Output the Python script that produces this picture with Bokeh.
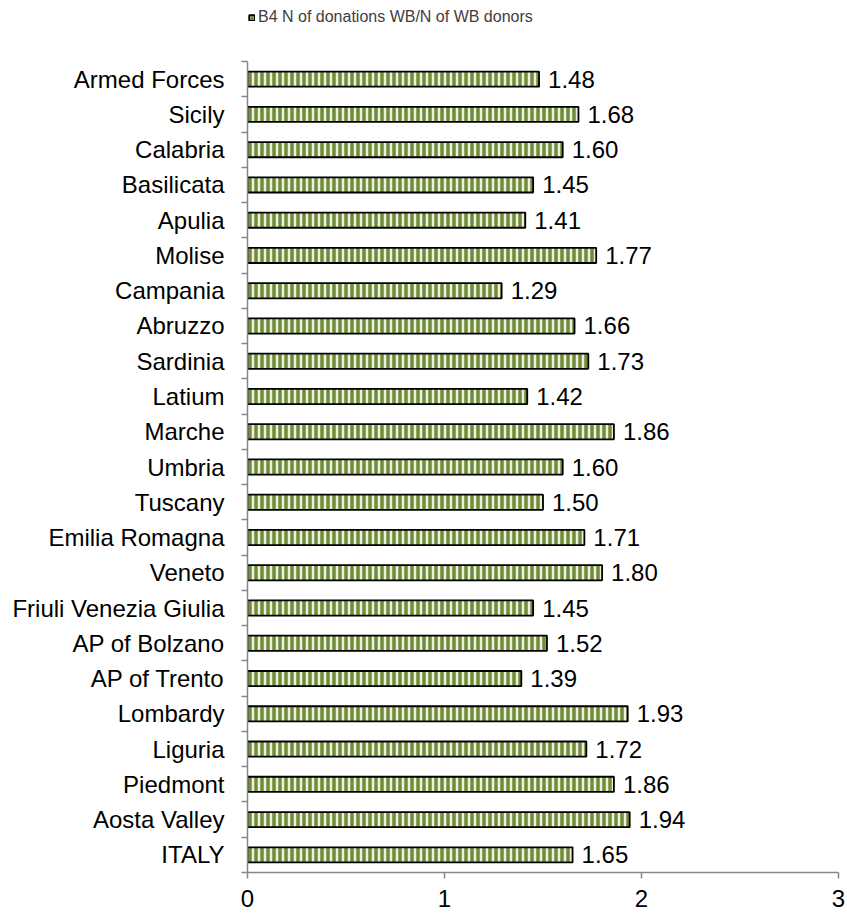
from bokeh.plotting import figure
from bokeh.models import FixedTicker, Range1d, ColumnDataSource, Legend, LegendItem
from bokeh.embed import file_html
from bokeh.resources import INLINE
from bokeh.core.properties import value

# Categories listed from bottom to top
regions = ["ITALY", "Aosta Valley", "Piedmont", "Liguria", "Lombardy",
           "AP of Trento", "AP of Bolzano", "Friuli Venezia Giulia", "Veneto",
           "Emilia Romagna", "Tuscany", "Umbria", "Marche", "Latium", "Sardinia",
           "Abruzzo", "Campania", "Molise", "Apulia", "Basilicata", "Calabria",
           "Sicily", "Armed Forces"]
ratios = [1.65, 1.94, 1.86, 1.72, 1.93, 1.39, 1.52, 1.45, 1.80, 1.71, 1.50,
          1.60, 1.86, 1.42, 1.73, 1.66, 1.29, 1.77, 1.41, 1.45, 1.60, 1.68, 1.48]
x_ticks = [0, 1, 2, 3]
series_name = "B4 N of donations WB/N of WB donors"

FONT = "Liberation Sans"
n = len(regions)
pos = list(range(n))
src = ColumnDataSource(dict(y=pos, v=ratios, lab=[f"{r:.2f}" for r in ratios]))

# frame spans the full height above the x axis; the y axis itself is bounded
p = figure(width=847, height=914, output_backend="svg", toolbar_location=None,
           x_range=Range1d(0, 3), y_range=Range1d(-0.5, n - 0.5 + 1.73),
           min_border_left=247, min_border_right=9, min_border_top=0,
           min_border_bottom=42)
p.outline_line_color = None
p.xgrid.visible = False
p.ygrid.visible = False

r = p.hbar(y="y", right="v", left=0, height=0.43, source=src,
           fill_color="#EFEEE3", hatch_pattern="vertical_line",
           hatch_color="#6F8C36", hatch_weight=3.5, hatch_scale=6,
           line_color="#000000", line_width=1.8)

p.text(x="v", y="y", text="lab", x_offset=9, source=src,
       text_baseline="middle", text_align="left",
       text_font=value(FONT), text_font_size="24px", text_color="#000000")

GREY = "#868686"
ya = p.yaxis[0]
ya.bounds = (-0.5, n - 0.5)
ya.ticker = FixedTicker(ticks=pos, minor_ticks=[i - 0.5 for i in range(n + 1)])
ya.major_label_overrides = {i: name for i, name in enumerate(regions)}
ya.major_tick_out = 0
ya.major_tick_in = 0
ya.minor_tick_out = 6
ya.minor_tick_in = 0
ya.minor_tick_line_color = GREY
ya.minor_tick_line_width = 1.5
ya.axis_line_color = GREY
ya.axis_line_width = 1.5
ya.major_label_standoff = 17
ya.major_label_text_font = FONT
ya.major_label_text_font_size = "24px"
ya.major_label_text_color = "#000000"

xa = p.xaxis[0]
xa.ticker = FixedTicker(ticks=x_ticks)
xa.major_tick_out = 6
xa.major_tick_in = 0
xa.major_tick_line_color = GREY
xa.major_tick_line_width = 1.5
xa.minor_tick_line_color = None
xa.axis_line_color = GREY
xa.axis_line_width = 1.5
xa.major_label_standoff = 11
xa.major_label_text_font = FONT
xa.major_label_text_font_size = "24px"
xa.major_label_text_color = "#000000"

legend = Legend(items=[LegendItem(label=series_name, renderers=[r])],
                location=(1, 846), orientation="horizontal",
                border_line_color=None, background_fill_alpha=0,
                padding=0, margin=0, glyph_width=7, glyph_height=7,
                label_height=16, label_standoff=3,
                label_text_font=FONT, label_text_font_size="16px",
                label_text_color="#404040")
p.add_layout(legend)

open("out.html", "w").write(file_html(p, INLINE))
